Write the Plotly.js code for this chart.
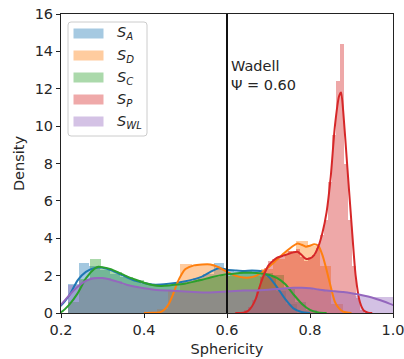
<!DOCTYPE html>
<html>
<head>
<meta charset="utf-8">
<script src="https://cdn.plot.ly/plotly-3.0.1.min.js"></script>
<style>html,body{margin:0;padding:0;background:#fff;}#chart{width:404px;height:359px;}</style>
</head>
<body>
<div id="chart"></div>
<script>
// ---------------- DATA ----------------
const xTickVals = [0.2, 0.4, 0.6, 0.8, 1.0];
const xTickText = ['0.2', '0.4', '0.6', '0.8', '1.0'];
const yTickVals = [0, 2, 4, 6, 8, 10, 12, 14, 16];
const yTickText = ['0', '2', '4', '6', '8', '10', '12', '14', '16'];

const seriesLabels = ['<i>S</i><sub><i>A</i></sub>', '<i>S</i><sub><i>D</i></sub>', '<i>S</i><sub><i>C</i></sub>', '<i>S</i><sub><i>P</i></sub>', '<i>S</i><sub><i>WL</i></sub>'];

// histogram bin edges and densities
const edgesA = [0.218,0.243,0.268,0.293,0.318,0.343,0.368,0.393,0.418,0.443,0.468,0.493,0.518,0.543,0.568,0.593,0.618,0.643,0.668,0.693,0.718,0.743,0.768];
const histA  = [1.55,2.7,2.5,2.3,2.1,1.9,1.75,1.55,1.45,1.5,1.6,1.7,1.85,2.1,2.7,2.3,2.2,2.3,2.3,1.9,1.2,0.5];

const edgesD = [0.431,0.459,0.487,0.515,0.543,0.571,0.599,0.627,0.655,0.683,0.711,0.739,0.767,0.795,0.823,0.851,0.879];
const histD  = [0.2,1.2,2.62,2.55,2.6,2.4,2.0,1.9,2.0,2.35,2.9,3.3,3.85,3.6,2.5,0.5];

const edgesC = [0.218,0.244,0.270,0.296,0.322,0.348,0.374,0.400,0.426,0.452,0.478,0.504,0.530,0.556,0.582,0.608,0.634,0.660,0.686,0.712,0.738,0.764,0.790,0.816];
const histC  = [0.6,1.8,2.9,2.35,2.2,1.95,1.75,1.55,1.45,1.5,1.55,1.65,1.8,1.95,2.0,2.1,2.3,2.2,2.15,2.05,1.3,0.6,0.15];

const edgesP = [0.6316,0.6412,0.6508,0.6604,0.6700,0.6796,0.6892,0.6988,0.7084,0.7180,0.7276,0.7372,0.7468,0.7564,0.7660,0.7756,0.7852,0.7948,0.8044,0.8140,0.8236,0.8332,0.8428,0.8524,0.8620,0.8716,0.8812,0.8908,0.9004,0.9100,0.9196,0.9292];
const histP  = [0.05,0.15,0.3,0.7,1.2,1.9,2.4,2.8,2.9,3.0,3.0,3.1,3.3,3.2,3.4,3.0,2.8,3.0,3.1,3.5,4.2,5.0,7.0,9.5,12.4,14.4,8.0,5.0,2.5,0.8,0.15];

const edgesWL = [0.2180,0.2436,0.2692,0.2948,0.3204,0.3460,0.3716,0.3972,0.4228,0.4484,0.4740,0.4996,0.5252,0.5508,0.5764,0.6020,0.6276,0.6532,0.6788,0.7044,0.7300,0.7556,0.7812,0.8068,0.8324,0.8580,0.8836,0.9092,0.9348,0.9604,0.9860,1.0116];
const histWL  = [1.5,1.75,1.9,1.85,1.7,1.5,1.4,1.3,1.25,1.2,1.15,1.1,1.1,1.1,1.12,1.18,1.2,1.2,1.25,1.3,1.3,1.4,1.35,1.25,1.2,1.1,1.05,0.9,0.88,0.87,0.85];

// KDE curves
const kdeAx = [0.19,0.20,0.22,0.24,0.26,0.28,0.30,0.32,0.34,0.36,0.38,0.40,0.42,0.44,0.46,0.48,0.50,0.52,0.54,0.56,0.58,0.60,0.62,0.64,0.66,0.68,0.70,0.72,0.74,0.76,0.78,0.80];
const kdeAy = [0.25,0.40,0.95,1.75,2.2,2.4,2.42,2.3,2.1,1.9,1.72,1.6,1.52,1.52,1.56,1.62,1.7,1.8,1.95,2.2,2.4,2.32,2.28,2.25,2.28,2.25,1.95,1.4,0.75,0.25,0.05,0.0];

const kdeDx = [0.40,0.42,0.44,0.45,0.46,0.47,0.48,0.49,0.50,0.52,0.54,0.56,0.58,0.60,0.62,0.64,0.66,0.68,0.70,0.72,0.74,0.76,0.77,0.78,0.79,0.80,0.81,0.82,0.83,0.84,0.85,0.86,0.87,0.88,0.90];
const kdeDy = [0.0,0.01,0.05,0.2,0.5,1.0,1.6,2.05,2.35,2.55,2.6,2.6,2.45,2.2,2.0,1.9,1.92,2.1,2.45,2.85,3.25,3.6,3.72,3.65,3.55,3.6,3.68,3.6,3.1,2.3,1.4,0.6,0.25,0.07,0.0];

const kdeCx = [0.19,0.20,0.22,0.24,0.26,0.28,0.29,0.30,0.32,0.34,0.36,0.38,0.40,0.42,0.44,0.46,0.48,0.50,0.52,0.54,0.56,0.58,0.60,0.62,0.64,0.66,0.68,0.70,0.72,0.74,0.76,0.78,0.80,0.82,0.84];
const kdeCy = [0.0,0.05,0.45,1.05,1.85,2.35,2.47,2.45,2.35,2.15,1.95,1.78,1.62,1.5,1.45,1.47,1.52,1.58,1.68,1.78,1.9,2.0,2.07,2.12,2.15,2.15,2.12,2.05,1.88,1.55,1.0,0.5,0.17,0.03,0.0];

const kdePx = [0.62,0.64,0.65,0.66,0.67,0.68,0.69,0.70,0.72,0.74,0.76,0.77,0.78,0.79,0.80,0.81,0.82,0.83,0.84,0.85,0.86,0.87,0.875,0.88,0.89,0.90,0.91,0.92,0.93,0.94,0.95];
const kdePy = [0.0,0.02,0.1,0.35,0.8,1.5,2.1,2.55,2.95,3.1,3.25,3.28,3.1,2.9,2.92,3.1,3.55,4.3,5.4,7.3,10.0,11.6,11.8,10.8,7.8,4.8,2.0,0.6,0.12,0.02,0.0];

const kdeWLx = [0.19,0.20,0.22,0.24,0.26,0.28,0.30,0.32,0.34,0.36,0.38,0.40,0.42,0.44,0.46,0.48,0.50,0.52,0.54,0.56,0.58,0.60,0.62,0.64,0.66,0.68,0.70,0.72,0.74,0.76,0.78,0.80,0.82,0.84,0.86,0.88,0.90,0.92,0.94,0.96,0.98,1.00,1.01];
const kdeWLy = [0.3,0.45,0.95,1.4,1.72,1.86,1.87,1.78,1.65,1.5,1.4,1.32,1.26,1.22,1.2,1.18,1.15,1.12,1.1,1.1,1.12,1.15,1.18,1.2,1.2,1.22,1.25,1.28,1.32,1.35,1.35,1.32,1.26,1.2,1.16,1.12,1.06,0.98,0.88,0.75,0.6,0.43,0.36];

const wadellX = 0.6;
const wadellText = 'Wadell<br>Ψ = 0.60';

// ---------------- STYLE ----------------
const colors = ['#1f77b4', '#ff7f0e', '#2ca02c', '#d62728', '#9467bd'];
const FONT = 'DejaVu Sans, Verdana, sans-serif';
const FS = 14.5;
const TXT = '#262626';

const series = [
  {edges: edgesA, hist: histA, kx: kdeAx, ky: kdeAy},
  {edges: edgesD, hist: histD, kx: kdeDx, ky: kdeDy},
  {edges: edgesC, hist: histC, kx: kdeCx, ky: kdeCy},
  {edges: edgesP, hist: histP, kx: kdePx, ky: kdePy},
  {edges: edgesWL, hist: histWL, kx: kdeWLx, ky: kdeWLy}
];

const traces = [];
series.forEach((s, i) => {
  const cx = [], w = [];
  for (let k = 0; k < s.hist.length; k++) {
    cx.push((s.edges[k] + s.edges[k + 1]) / 2);
    w.push(s.edges[k + 1] - s.edges[k]);
  }
  traces.push({type: 'bar', x: cx, y: s.hist, width: w, opacity: 0.4,
    marker: {color: colors[i], line: {width: 0}}, showlegend: false, hoverinfo: 'skip'});
});
series.forEach((s, i) => {
  traces.push({type: 'scatter', mode: 'lines', x: s.kx, y: s.ky,
    line: {color: colors[i], width: 2, shape: 'spline', smoothing: 0.6}, showlegend: false, hoverinfo: 'skip'});
});

// pixel -> paper helpers (plot area: x 61..393, y 14..313)
const L = 61, T = 14, W = 332, H = 299;
const px = v => (v - L) / W;
const py = v => (T + H - v) / H;

const shapes = [];
const annotations = [];

// Wadell vertical line
shapes.push({type: 'line', xref: 'x', yref: 'paper', x0: wadellX, x1: wadellX, y0: 0, y1: 1,
  line: {color: '#111', width: 2}, layer: 'above'});
annotations.push({xref: 'x', yref: 'paper', x: wadellX, y: py(56), xanchor: 'left', yanchor: 'top',
  xshift: 2, align: 'left', showarrow: false, text: wadellText, font: {family: FONT, size: FS, color: TXT}});

// legend box (rounded)
(function(){
  const x0 = px(68), x1 = px(147), y0 = py(136), y1 = py(22);
  const rx = 3 / W, ry = 3 / H;
  const p = `M${x0+rx},${y0} L${x1-rx},${y0} Q${x1},${y0} ${x1},${y0+ry} L${x1},${y1-ry} Q${x1},${y1} ${x1-rx},${y1} L${x0+rx},${y1} Q${x0},${y1} ${x0},${y1-ry} L${x0},${y0+ry} Q${x0},${y0} ${x0+rx},${y0} Z`;
  shapes.push({type: 'path', xref: 'paper', yref: 'paper', path: p,
    fillcolor: 'rgba(255,255,255,0.8)', line: {color: '#cccccc', width: 1}, layer: 'above'});
})();
const rowsY = [33.5, 55.5, 77.5, 99.5, 121.5];
seriesLabels.forEach((lab, i) => {
  const cy = rowsY[i];
  shapes.push({type: 'rect', xref: 'paper', yref: 'paper', x0: px(73.5), x1: px(103.5), y0: py(cy + 5), y1: py(cy - 5),
    fillcolor: colors[i], opacity: 0.4, line: {width: 0}, layer: 'above'});
  annotations.push({xref: 'paper', yref: 'paper', x: px(115), y: py(cy), xanchor: 'left', yanchor: 'middle',
    showarrow: false, text: lab, font: {family: FONT, size: FS, color: TXT}});
});

const axisCommon = {
  ticks: 'outside', ticklen: 4, tickwidth: 1, tickcolor: '#222',
  showline: true, linecolor: '#222', linewidth: 1, mirror: true,
  showgrid: false, zeroline: false, ticklabeloverflow: 'allow',
  tickfont: {family: FONT, size: FS, color: TXT}
};

const layout = {
  width: 404, height: 359,
  margin: {l: L, r: 404 - L - W, t: T, b: 359 - T - H, pad: 0},
  paper_bgcolor: '#fff', plot_bgcolor: '#fff',
  barmode: 'overlay', bargap: 0,
  showlegend: false,
  font: {family: FONT, size: FS, color: TXT},
  xaxis: Object.assign({}, axisCommon, {range: [0.2, 1.0], tickvals: xTickVals, ticktext: xTickText,
    title: {text: 'Sphericity', font: {family: FONT, size: FS, color: TXT}, standoff: 6}}),
  yaxis: Object.assign({}, axisCommon, {range: [0, 16], tickvals: yTickVals, ticktext: yTickText,
    title: {text: 'Density', font: {family: FONT, size: FS, color: TXT}, standoff: 6}}),
  shapes: shapes,
  annotations: annotations
};

Plotly.newPlot('chart', traces, layout, {staticPlot: true, displayModeBar: false});
</script>
</body>
</html>
